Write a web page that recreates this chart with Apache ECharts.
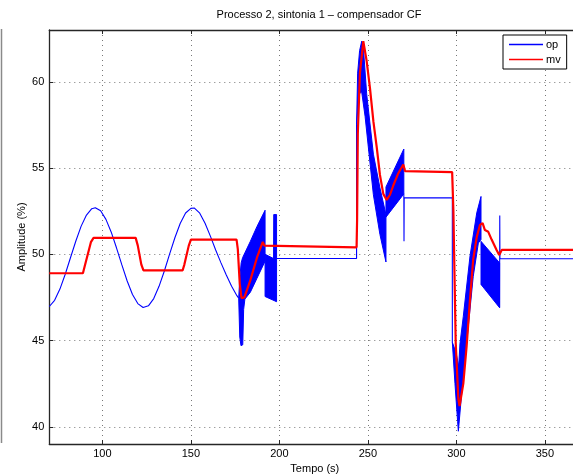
<!DOCTYPE html>
<html>
<head>
<meta charset="utf-8">
<script src="https://cdn.jsdelivr.net/npm/echarts@6/dist/echarts.min.js"></script>
<style>
html,body{margin:0;padding:0;background:#fff}
#chart{width:573px;height:475px}
</style>
</head>
<body>
<div id="chart"></div>
<script>
// Tick values
const xTicks = [100, 150, 200, 250, 300, 350];
const yTicks = [40, 45, 50, 55, 60];

// op: controller output, thin trace (null = break where it oscillates fast)
const opLine = [
  [70, 46.97], [73, 47.33], [76, 47.98], [79, 48.84], [82, 49.81], [85, 50.77],
  [88, 51.63], [91, 52.27], [94, 52.64], [96, 52.7], [99, 52.52], [102, 52.02],
  [105, 51.28], [108, 50.36], [111, 49.38], [114, 48.45], [117, 47.67], [120, 47.14],
  [123, 46.91], [124, 46.92], [126, 47.01], [129, 47.43], [132, 48.14], [135, 49.03],
  [138, 50.02], [141, 50.97], [144, 51.8], [147, 52.39], [150, 52.66], [152, 52.68],
  [155, 52.38], [158, 51.8], [161, 51.05], [164, 50.25], [167, 49.5], [170, 48.8],
  [173, 48.15], [176, 47.6], [177, 47.45],
  [177, null],
  [198.4, 49.75], [243.6, 49.75], [243.6, 57.5],
  [243.6, null],
  [270.3, 53.5], [270.4, 50.75], [270.5, 53.27], [297.7, 53.27], [297.7, 44.9],
  [297.7, null],
  [324.4, 46.9], [324.5, 52.25], [324.6, 49.74], [370, 49.74]
];

// op: envelopes of the fast-oscillation stretches
const opBand1Upper = [[177.0, 47.45], [177.6, 48.6], [178.4, 49.5], [179.2, 49.8], [183.6, 50.75], [187.3, 51.6], [191.9, 52.55]];
const opBand1Lower = [[177.0, 47.45], [177.6, 45.2], [178.3, 44.7], [179.3, 44.75], [179.8, 46.8], [180.5, 47.4], [183.6, 47.8], [187.3, 48.6], [191.9, 49.6]];
const opBand2Upper = [[191.9, 50.0], [196.7, 49.75], [196.8, 52.3], [198.4, 52.3]];
const opBand2Lower = [[191.9, 47.55], [198.4, 47.25]];
const opBand3Upper = [[243.6, 57.5], [244.2, 60.5], [245.3, 61.8], [246.5, 62.35], [247.5, 61.9], [249.3, 59.3], [253.1, 55.8], [256.8, 53.85], [260.2, 52.3]];
const opBand3Lower = [[243.6, 57.5], [245.0, 59.3], [246.5, 59.4], [248.4, 58.0], [253.1, 53.45], [256.8, 51.15], [260.2, 49.55]];
const opBand4Upper = [[260.2, 53.9], [270.3, 56.1]];
const opBand4Lower = [[260.2, 52.15], [270.3, 53.5]];
const opBand5Upper = [[297.7, 44.9], [299.8, 44.3], [301.3, 43.5], [302.0, 44.8], [303.9, 46.4], [307.7, 49.9], [311.5, 52.4], [313.9, 53.35]];
const opBand5Lower = [[297.7, 44.9], [299.2, 42.5], [300.7, 40.3], [301.1, 39.74], [303.0, 41.95], [305.8, 44.85], [309.5, 48.7], [312.4, 50.65], [313.9, 50.85]];
const opBand6Upper = [[313.9, 50.75], [324.4, 49.5]];
const opBand6Lower = [[313.9, 48.25], [324.4, 46.9]];

// mv: manipulated variable
const mvLine = [
  [70, 48.9], [89.0, 48.9], [90.0, 49.3], [93.5, 50.7], [95.0, 50.95], [118.8, 50.95],
  [120.0, 50.5], [122.0, 49.4], [123.2, 49.06], [145.3, 49.06], [146.3, 49.4], [148.8, 50.5],
  [150.0, 50.85], [175.8, 50.85], [176.5, 50.3], [177.6, 48.3], [178.6, 47.45], [179.3, 47.35],
  [180.2, 47.5], [183.6, 48.5], [187.3, 49.8], [190.6, 50.72], [191.5, 50.5], [192.5, 50.4],
  [243.6, 50.4], [243.9, 52.0], [244.3, 57.0], [245.5, 60.5], [247.4, 62.35], [249.3, 61.2],
  [251.2, 59.6], [253.1, 57.7], [255.0, 56.2], [256.8, 54.6], [258.7, 53.5], [260.6, 53.15],
  [262.5, 53.45], [264.4, 54.0], [267.2, 54.7], [270.0, 55.2], [271.0, 54.82], [272.0, 54.76],
  [297.6, 54.76], [298.3, 52.5], [299.6, 44.9], [301.1, 41.6], [301.8, 41.2], [303.9, 42.5],
  [305.8, 44.7], [307.7, 47.4], [309.5, 49.7], [311.5, 51.0], [313.3, 51.7], [314.8, 51.8],
  [316.1, 51.4], [318.0, 51.3], [319.9, 50.85], [322.7, 50.25], [324.2, 49.95], [325.6, 50.25],
  [370, 50.25]
];

const opBands = [
  [opBand1Upper, opBand1Lower], [opBand2Upper, opBand2Lower],
  [opBand3Upper, opBand3Lower], [opBand4Upper, opBand4Lower],
  [opBand5Upper, opBand5Lower], [opBand6Upper, opBand6Lower]
];

const FONT = '"Liberation Sans", Arial, Helvetica, sans-serif';
const AXIS_COLOR = '#262626';
const chart = echarts.init(document.getElementById('chart'), null, { renderer: 'canvas' });

const gridLine = { show: true, lineStyle: { color: '#777', type: [1, 4], width: 1 } };

chart.setOption({
  animation: false,
  backgroundColor: '#fff',
  title: {
    text: 'Processo 2, sintonia 1 \u2013 compensador CF',
    left: 314, top: 4, textAlign: 'center',
    textStyle: { fontFamily: FONT, fontSize: 11, fontWeight: 'normal', color: '#000' }
  },
  legend: {
    data: ['op', 'mv'],
    orient: 'vertical',
    left: 503, top: 35,
    padding: [3, 6, 3, 6],
    itemWidth: 34, itemHeight: 1.5, itemGap: 2,
    icon: 'rect',
    borderColor: '#000', borderWidth: 1, backgroundColor: '#fff',
    textStyle: { fontFamily: FONT, fontSize: 11, color: '#000', lineHeight: 13, padding: [0, 0, 0, -2] }
  },
  graphic: [{
    type: 'line', shape: { x1: 1.5, y1: 29, x2: 1.5, y2: 443 },
    style: { stroke: '#8a8a8a', lineWidth: 1.5 }, silent: true
  }],
  grid: { left: 49.3, top: 30, width: 531, height: 414, containLabel: false, outerBoundsMode: 'none' },
  xAxis: [{
    type: 'value', min: 70, max: 370,
    name: 'Tempo (s)', nameLocation: 'middle', nameGap: 18,
    nameTextStyle: { fontFamily: FONT, fontSize: 11, color: '#000' },
    axisLine: { show: true, onZero: false, lineStyle: { color: AXIS_COLOR, width: 1.3 } },
    axisTick: { show: true, inside: true, length: 4, customValues: xTicks, lineStyle: { color: AXIS_COLOR } },
    axisLabel: { show: true, customValues: xTicks, margin: 4, fontFamily: FONT, fontSize: 11, color: '#000' },
    splitLine: gridLine
  }, {
    type: 'value', min: 70, max: 370, position: 'top',
    axisLine: { show: true, onZero: false, lineStyle: { color: AXIS_COLOR, width: 1.3 } },
    axisTick: { show: true, inside: true, length: 4, customValues: xTicks, lineStyle: { color: AXIS_COLOR } },
    axisLabel: { show: false },
    splitLine: { show: false }
  }],
  yAxis: {
    type: 'value', min: 39, max: 63,
    name: 'Amplitude (%)', nameLocation: 'middle', nameGap: 22, nameRotate: 90,
    nameMoveOverlap: false,
    nameTextStyle: { fontFamily: FONT, fontSize: 11, color: '#000' },
    axisLine: { show: true, onZero: false, lineStyle: { color: AXIS_COLOR, width: 1.3 } },
    axisTick: { show: true, inside: true, length: 4, customValues: yTicks, lineStyle: { color: AXIS_COLOR } },
    axisLabel: { show: true, customValues: yTicks, margin: 5, fontFamily: FONT, fontSize: 11, color: '#000' },
    splitLine: gridLine
  },
  series: [
    {
      name: 'op', type: 'line', xAxisIndex: 0, data: opLine,
      showSymbol: false, connectNulls: false,
      lineStyle: { color: '#0000ff', width: 1.1 }, itemStyle: { color: '#0000ff' }
    },
    {
      name: 'op', type: 'custom', xAxisIndex: 0,
      data: opBands.map(b => b[0][0]),
      renderItem: function (params, api) {
        const band = opBands[params.dataIndex];
        const pts = band[0].map(p => api.coord(p))
          .concat(band[1].slice().reverse().map(p => api.coord(p)));
        return {
          type: 'polygon',
          shape: { points: pts },
          style: { fill: '#0000ff', stroke: '#0000ff', lineWidth: 1 }
        };
      },
      itemStyle: { color: '#0000ff' }
    },
    {
      name: 'mv', type: 'line', xAxisIndex: 0, data: mvLine,
      showSymbol: false,
      lineStyle: { color: '#ff0000', width: 2.2 }, itemStyle: { color: '#ff0000' }
    }
  ]
});
</script>
</body>
</html>
